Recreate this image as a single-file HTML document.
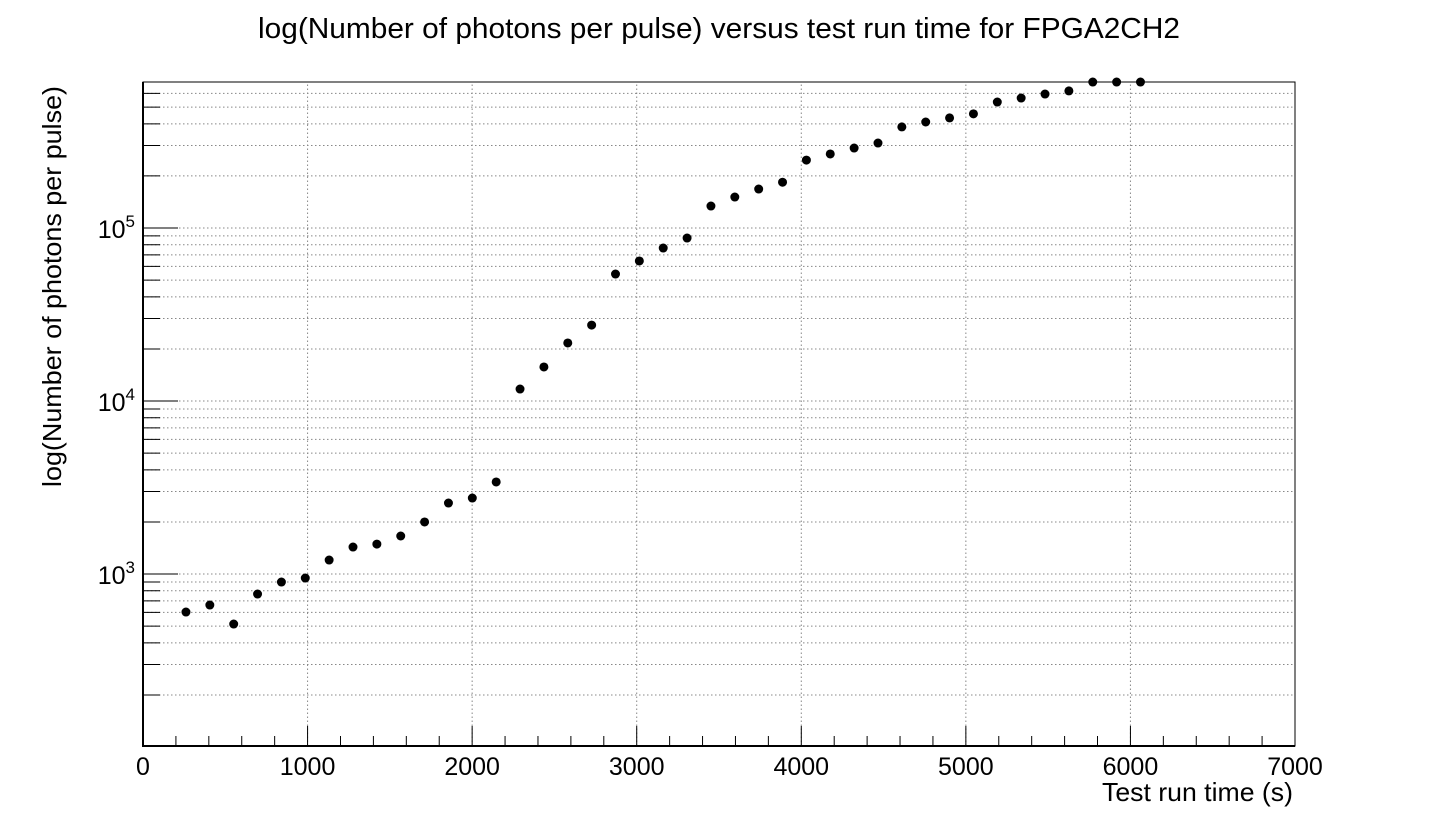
<!DOCTYPE html>
<html><head><meta charset="utf-8"><style>
body{margin:0;background:#fff;}
svg text{font-family:"Liberation Sans",Helvetica,sans-serif;fill:#000;}
</style></head><body>
<svg id="chart" width="1438" height="830" xmlns="http://www.w3.org/2000/svg">
<text x="719" y="38" font-size="28.5" text-anchor="middle" textLength="922" lengthAdjust="spacingAndGlyphs">log(Number of photons per pulse) versus test run time for FPGA2CH2</text>
<text x="1293" y="801" font-size="26" text-anchor="end" textLength="191" lengthAdjust="spacingAndGlyphs">Test run time (s)</text>
<text transform="translate(61,86) rotate(-90)" font-size="26" text-anchor="end" textLength="401" lengthAdjust="spacingAndGlyphs">log(Number of photons per pulse)</text>
<g id="grid"></g><g id="axes"></g><g id="points"></g>
</svg>
<script>
const times=[255,400,545,690,835,980,1125,1270,1415,1560,1705,1850,1995,2140,2285,2430,2575,2720,2865,3010,3155,3300,3445,3590,3735,3880,4025,4170,4315,4460,4605,4750,4895,5040,5185,5330,5475,5620,5765,5910,6055];
const photons=[603,662,514,766,899,948,1205,1432,1490,1659,2000,2573,2749,3404,11730,15740,21650,27480,54200,64500,76600,87500,134000,151000,168000,184000,247000,268000,290000,310000,384000,410000,433000,457000,535000,564000,595000,620000,698000,698000,698000];
const xTicks=[0,1000,2000,3000,4000,5000,6000,7000];
const yDecades=[3,4,5];
const NS="http://www.w3.org/2000/svg";
const X0=143,X1=1295,Y0=746,Y1=82;
const xMin=0,xMax=7000,lMin=2.006,lMax=5.844;
function sx(t){return X0+(t-xMin)/(xMax-xMin)*(X1-X0);}
function sy(v){return Y0-(Math.log10(v)-lMin)/(lMax-lMin)*(Y0-Y1);}
function mk(tag,a,p){const e=document.createElementNS(NS,tag);for(const k in a)e.setAttribute(k,a[k]);p.appendChild(e);return e;}
const grid=document.getElementById('grid'),axes=document.getElementById('axes'),pts=document.getElementById('points');
xTicks.forEach(t=>{if(t>xMin&&t<xMax){const l=mk('line',{x1:sx(t),x2:sx(t),y1:Y0,y2:Y1,stroke:'#888','stroke-dasharray':'1.5,2.5','stroke-width':1},grid);

}});
for(let d=2;d<=5;d++){for(let m=1;m<=9;m++){const v=m*Math.pow(10,d);const y=sy(v);if(y>Y0-1||y<Y1+1)continue;
const g=mk('line',{x1:X0,x2:X1,y1:y,y2:y,stroke:'#888','stroke-dasharray':'1.5,2.5','stroke-width':1},grid);


const tk=mk('line',{x1:X0,x2:X0+(m===1?35:17),y1:y,y2:y,stroke:'#000','stroke-width':1},axes);

}}
yDecades.forEach(d=>{const y=sy(Math.pow(10,d));const t=mk('text',{x:X0-8,y:y+10,'font-size':25,'text-anchor':'end'},axes);


t.innerHTML='10<tspan dy="-11" font-size="17">'+d+'</tspan>';});
for(let t=0;t<=7000;t+=200){const x=sx(t);const tk=mk('line',{x1:x,x2:x,y1:Y0,y2:Y0-(t%1000===0?20:10),stroke:'#000','stroke-width':1},axes);

}
xTicks.forEach(t=>{const e=mk('text',{x:sx(t),y:775,'font-size':25,'text-anchor':'middle'},axes);


e.textContent=t;});
const fr=mk('rect',{x:X0,y:Y1,width:X1-X0,height:Y0-Y1,fill:'none',stroke:'#000','stroke-width':1},axes);


const ax=mk('path',{d:`M${X0},${Y1}V${Y0}H${X1}`,fill:'none',stroke:'#000','stroke-width':2},axes);


times.forEach((t,i)=>{const c=mk('circle',{cx:sx(t)+1,cy:sy(photons[i]),r:4.5,fill:'#000'},pts);

});
</script>
</body></html>
